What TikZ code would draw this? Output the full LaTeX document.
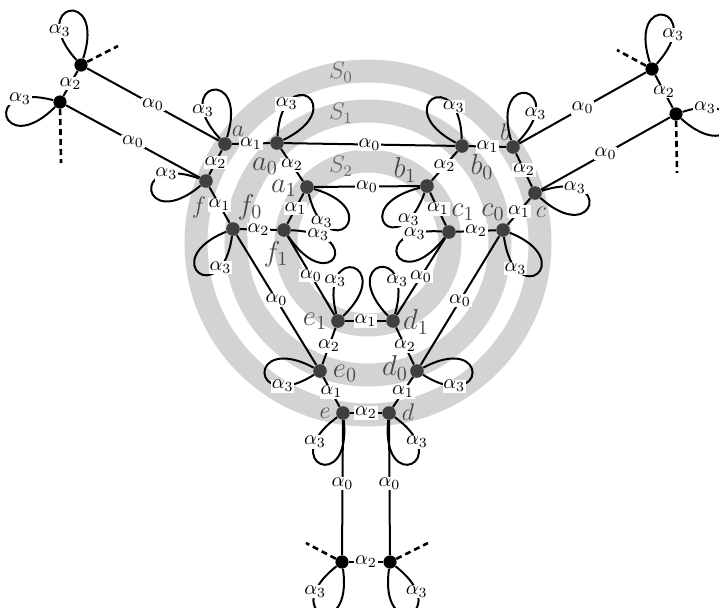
\documentclass[tikz,border=0pt]{standalone}
\usepackage{amsmath,amssymb}
\usepackage{tikz}
\usetikzlibrary{calc}
\usepackage{xcolor}
\definecolor{ringgray}{HTML}{D3D3D3}
\definecolor{dartgray}{HTML}{3F3F3F}
\definecolor{namegray}{HTML}{484848}
\definecolor{sgray}{HTML}{6A6A6A}

\begin{document}
\begin{tikzpicture}[
  x=0.5pt, y=-0.5pt,
  every node/.style={font=\normalsize},
  dart/.style={circle, fill=dartgray, inner sep=0pt, minimum size=6.8pt},
  far/.style={circle, fill=black, inner sep=0pt, minimum size=6.6pt},
  dname/.style={font=\Large, text=namegray, inner sep=0pt},
  sname/.style={font=\large, text=sgray, inner sep=0pt},
  alab/.style={fill=white, inner sep=0.4pt},
  link/.style={line width=1pt},
  free/.style={line width=1.3pt, dash pattern=on 3pt off 2pt},
  tear/.style={line width=1pt, looseness=1, min distance=38pt},
  band/.style={draw=ringgray, line width=11.5pt}
]
  \useasboundingbox (0,0) rectangle (719,607);

  % orbits S_0, S_1, S_2
  \coordinate (O) at (368,243);
  \draw[band] (O) circle [radius=172];
  \draw[band] (O) circle [radius=132];
  \draw[band] (O) circle [radius=82];
  \node[sname] (s0) at (341,72) {$S_0$};
  \node[sname] (s1) at (341,113) {$S_1$};
  \node[sname] (s2) at (341,166) {$S_2$};

  % darts outside the orbits
  \node[far] (tl1) at (81,65) {};
  \node[far] (tl2) at (60,102) {};
  \node[far] (tr1) at (652,69) {};
  \node[far] (tr2) at (676,114) {};
  \node[far] (bl) at (342,562) {};
  \node[far] (br) at (390,562) {};

  % darts on S_0
  \node[dart] (a) at (225,144) {};
  \node[dart] (f) at (206,181) {};
  \node[dart] (b) at (513,147) {};
  \node[dart] (c) at (535,193) {};
  \node[dart] (e) at (343,413) {};
  \node[dart] (d) at (389,413) {};

  % darts on S_1
  \node[dart] (a0) at (277,143) {};
  \node[dart] (f0) at (233,229) {};
  \node[dart] (b0) at (462,146) {};
  \node[dart] (c0) at (503,230) {};
  \node[dart] (e0) at (320,371) {};
  \node[dart] (d0) at (417,371) {};

  % darts on S_2
  \node[dart] (a1) at (307,187) {};
  \node[dart] (f1) at (284,230) {};
  \node[dart] (b1) at (427,186) {};
  \node[dart] (c1) at (449,232) {};
  \node[dart] (e1) at (338,321) {};
  \node[dart] (d1) at (393,321) {};

  % names
  \node[dname, font=\large] (na) at (238,131) {$a$};
  \node[dname, font=\large] (nf) at (199,207) {$f$};
  \node[dname, font=\large] (nb) at (505,132) {$b$};
  \node[dname, font=\large] (nc) at (541,212) {$c$};
  \node[dname, font=\large] (ne) at (325,413) {$e$};
  \node[dname, font=\large] (nd) at (408,412) {$d$};
  \node[dname] (na0) at (265,166) {$a_0$};
  \node[dname] (nf0) at (250,207) {$f_0$};
  \node[dname] (nb0) at (482,167) {$b_0$};
  \node[dname] (nc0) at (493,212) {$c_0$};
  \node[dname] (ne0) at (345,373) {$e_0$};
  \node[dname] (nd0) at (395,368) {$d_0$};
  \node[dname] (na1) at (284,188) {$a_1$};
  \node[dname] (nf1) at (276,254) {$f_1$};
  \node[dname] (nb1) at (405,170) {$b_1$};
  \node[dname] (nc1) at (463,212) {$c_1$};
  \node[dname] (ne1) at (315,321) {$e_1$};
  \node[dname] (nd1) at (416,322) {$d_1$};

  % alpha_0
  \draw[link] (tl1) -- node[alab] {$\alpha_0$} (a);
  \draw[link] (tl2) -- node[alab] {$\alpha_0$} (f);
  \draw[link] (tr1) -- node[alab] {$\alpha_0$} (b);
  \draw[link] (tr2) -- node[alab] {$\alpha_0$} (c);
  \draw[link] (e) -- node[alab, pos=0.47] {$\alpha_0$} (bl);
  \draw[link] (d) -- node[alab, pos=0.47] {$\alpha_0$} (br);
  \draw[link] (a0) -- node[alab] {$\alpha_0$} (b0);
  \draw[link] (a1) -- node[alab] {$\alpha_0$} (b1);
  \draw[link] (f0) -- node[alab] {$\alpha_0$} (e0);
  \draw[link] (f1) -- node[alab] {$\alpha_0$} (e1);
  \draw[link] (c0) -- node[alab] {$\alpha_0$} (d0);
  \draw[link] (c1) -- node[alab] {$\alpha_0$} (d1);

  % alpha_1
  \draw[link] (a) -- node[alab] {$\alpha_1$} (a0);
  \draw[link] (b) -- node[alab] {$\alpha_1$} (b0);
  \draw[link] (f) -- node[alab] {$\alpha_1$} (f0);
  \draw[link] (c) -- node[alab] {$\alpha_1$} (c0);
  \draw[link] (e) -- node[alab] {$\alpha_1$} (e0);
  \draw[link] (d) -- node[alab] {$\alpha_1$} (d0);
  \draw[link] (a1) -- node[alab] {$\alpha_1$} (f1);
  \draw[link] (b1) -- node[alab] {$\alpha_1$} (c1);
  \draw[link] (e1) -- node[alab] {$\alpha_1$} (d1);

  % alpha_2
  \draw[link] (tl1) -- node[alab] {$\alpha_2$} (tl2);
  \draw[link] (tr1) -- node[alab] {$\alpha_2$} (tr2);
  \draw[link] (bl) -- node[alab] {$\alpha_2$} (br);
  \draw[link] (a) -- node[alab] {$\alpha_2$} (f);
  \draw[link] (b) -- node[alab] {$\alpha_2$} (c);
  \draw[link] (e) -- node[alab] {$\alpha_2$} (d);
  \draw[link] (a0) -- node[alab] {$\alpha_2$} (a1);
  \draw[link] (b0) -- node[alab] {$\alpha_2$} (b1);
  \draw[link] (f0) -- node[alab] {$\alpha_2$} (f1);
  \draw[link] (c0) -- node[alab] {$\alpha_2$} (c1);
  \draw[link] (e0) -- node[alab] {$\alpha_2$} (e1);
  \draw[link] (d0) -- node[alab] {$\alpha_2$} (d1);

  % open ends
  \coordinate (tl1x) at (118,46);
  \coordinate (tl2x) at (61,163);
  \coordinate (tr1x) at (617,50);
  \coordinate (tr2x) at (677,173);
  \coordinate (blx) at (306,543);
  \coordinate (brx) at (428,543);
  \draw[free] (tl1) -- (tl1x);
  \draw[free] (tl2) -- (tl2x);
  \draw[free] (tr1) -- (tr1x);
  \draw[free] (tr2) -- (tr2x);
  \draw[free] (bl) -- (blx);
  \draw[free] (br) -- (brx);

  % alpha_3 loops
  \draw[tear] (tl1) to[out=132, in=72] node[alab, pos=0.2] {$\alpha_3$} (tl1);
  \draw[tear] (tl2) to[out=165, in=225] node[alab, pos=0.2] {$\alpha_3$} (tl2);
  \draw[tear] (tr1) to[out=48, in=108] node[alab, pos=0.2] {$\alpha_3$} (tr1);
  \draw[tear] (tr2) to[out=18, in=-42] node[alab, pos=0.12] {$\alpha_3$} (tr2);
  \draw[tear] (bl) to[out=-142, in=-82] node[alab, pos=0.2] {$\alpha_3$} (bl);
  \draw[tear] (br) to[out=-38, in=-98] node[alab, pos=0.2] {$\alpha_3$} (br);
  \draw[tear] (a) to[out=133, in=73] node[alab, pos=0.2] {$\alpha_3$} (a);
  \draw[tear] (f) to[out=160, in=220] node[alab, pos=0.2] {$\alpha_3$} (f);
  \draw[tear] (b) to[out=46, in=106] node[alab, pos=0.2] {$\alpha_3$} (b);
  \draw[tear] (c) to[out=18, in=-42] node[alab, pos=0.2] {$\alpha_3$} (c);
  \draw[tear] (e) to[out=-144, in=-84] node[alab, pos=0.2] {$\alpha_3$} (e);
  \draw[tear] (d) to[out=-36, in=-96] node[alab, pos=0.2] {$\alpha_3$} (d);
  \draw[tear] (a0) to[out=86, in=26] node[alab, pos=0.2] {$\alpha_3$} (a0);
  \draw[tear] (f0) to[out=-98, in=-158] node[alab, pos=0.2] {$\alpha_3$} (f0);
  \draw[tear] (b0) to[out=92, in=152] node[alab, pos=0.2] {$\alpha_3$} (b0);
  \draw[tear] (c0) to[out=-82, in=-22] node[alab, pos=0.2] {$\alpha_3$} (c0);
  \draw[tear] (e0) to[out=212, in=152] node[alab, pos=0.2] {$\alpha_3$} (e0);
  \draw[tear] (d0) to[out=-32, in=28] node[alab, pos=0.2] {$\alpha_3$} (d0);
  \draw[tear] (a1) to[out=-76, in=-16] node[alab, pos=0.18] {$\alpha_3$} (a1);
  \draw[tear] (f1) to[out=-2, in=-56] node[alab, pos=0.15] {$\alpha_3$} (f1);
  \draw[tear] (b1) to[out=-110, in=-166] node[alab, pos=0.18] {$\alpha_3$} (b1);
  \draw[tear] (c1) to[out=176, in=232] node[alab, pos=0.15] {$\alpha_3$} (c1);
  \draw[tear] (e1) to[out=104, in=44] node[alab, pos=0.2] {$\alpha_3$} (e1);
  \draw[tear] (d1) to[out=74, in=134] node[alab, pos=0.2] {$\alpha_3$} (d1);
\end{tikzpicture}
\end{document}
